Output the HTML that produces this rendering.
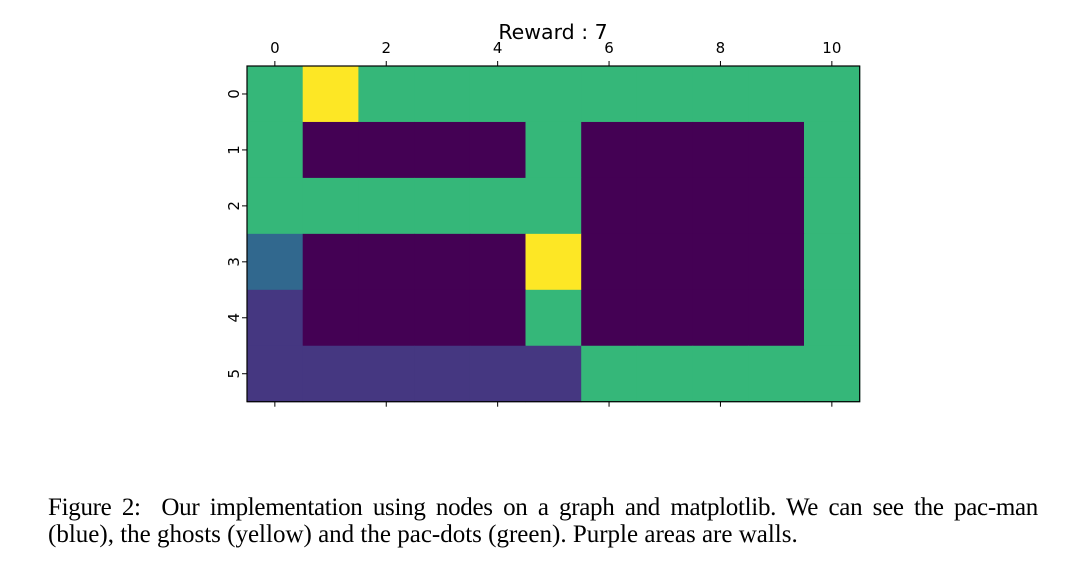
<!DOCTYPE html>
<html><head><meta charset="utf-8">
<style>
body{margin:0;background:#fff;width:1067px;height:568px;overflow:hidden;position:relative;}
#cap{position:absolute;left:48px;top:494px;width:990px;font-family:"Liberation Serif",serif;font-size:25px;line-height:27px;color:#000;}
#cap .l1{display:block;text-align:justify;text-align-last:justify;letter-spacing:-0.3px;}
#cap .l2{display:block;white-space:nowrap;}
</style></head><body>
<svg id="chart" width="1067" height="480" style="position:absolute;left:0;top:0" font-family="DejaVu Sans, sans-serif"></svg>
<div id="cap"><span class="l1">Figure 2:&nbsp; Our implementation using nodes on a graph and matplotlib. We can see the pac-man</span><span class="l2">(blue), the ghosts (yellow) and the pac-dots (green). Purple areas are walls.</span></div>
<script>
// cell values: 0 wall, 1 visited, 2 pacman, 3 dot, 4 ghost
const row0=[3,4,3,3,3,3,3,3,3,3,3];
const row1=[3,0,0,0,0,3,0,0,0,0,3];
const row2=[3,3,3,3,3,3,0,0,0,0,3];
const row3=[2,0,0,0,0,4,0,0,0,0,3];
const row4=[1,0,0,0,0,3,0,0,0,0,3];
const row5=[1,1,1,1,1,1,3,3,3,3,3];
const grid=[row0,row1,row2,row3,row4,row5];
const colorsByValue=['#440154','#453781','#31688e','#35b779','#fde725'];
const xTicks=[0,2,4,6,8,10];
const yTicks=[0,1,2,3,4,5];
const title='Reward : 7';
const NS='http://www.w3.org/2000/svg';
const svg=document.getElementById('chart');
const L=247,T=66,CW=55.7,CH=55.95;
const xs=c=>L+c*CW, ys=r=>T+r*CH;
function mk(t,a){const e=document.createElementNS(NS,t);for(const k in a)e.setAttribute(k,a[k]);svg.appendChild(e);return e;}
grid.forEach((row,r)=>row.forEach((v,c)=>{
  const e=mk('rect',{x:xs(c),y:ys(r),width:CW+0.5,height:CH+0.5,fill:colorsByValue[v]});
  
  
}));
const W=CW*11,H=CH*6;
const fr=mk('rect',{x:L,y:T,width:W,height:H,fill:'none',stroke:'#000','stroke-width':1.2});


xTicks.forEach(t=>{
  const x=xs(t+0.5);
  mk('line',{x1:x,x2:x,y1:T,y2:T-5,stroke:'#000'});
  mk('line',{x1:x,x2:x,y1:T+H,y2:T+H+5,stroke:'#000'});
  const tx=mk('text',{x:x,y:T-13,'text-anchor':'middle','font-size':15,fill:'#000'});
  tx.textContent=t;
  
  
});
yTicks.forEach(t=>{
  const y=ys(t+0.5);
  mk('line',{x1:L,x2:L-5,y1:y,y2:y,stroke:'#000'});
  const tx=mk('text',{x:L-13,y:y,'text-anchor':'middle','font-size':15,fill:'#000',transform:'rotate(-90 '+(L-13)+' '+y+')',dy:5});
  tx.textContent=t;
  
  
});
const tt=mk('text',{x:553,y:39,'text-anchor':'middle','font-size':20.5,fill:'#000'});
tt.textContent=title;


</script>
</body></html>
